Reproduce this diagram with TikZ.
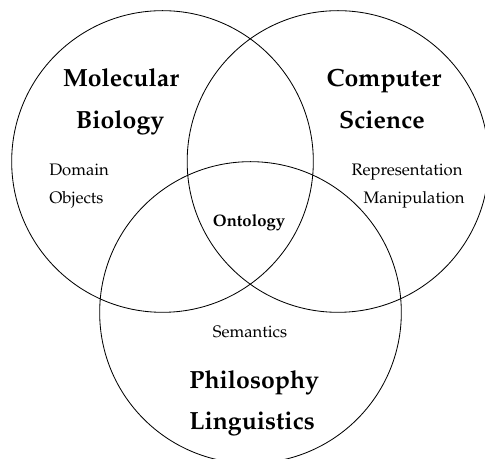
\documentclass[tikz,border=0pt]{standalone}
\usepackage[T1]{fontenc}
\usepackage{mathpazo}
\usepackage{tikz}
\usetikzlibrary{positioning}
\tikzset{
    setcircle/.style={
        circle, draw=black, line width=0.5pt,
        minimum size=181pt, inner sep=0pt
    },
    fieldlab/.style={
        font=\fontsize{14.9}{18}\selectfont\bfseries, anchor=base, inner sep=0pt
    },
    topiclab/.style={
        font=\normalsize, anchor=base west, inner sep=0pt
    },
    corelab/.style={
        font=\normalsize\bfseries, anchor=base, inner sep=0pt
    },
}
\begin{document}
\begin{tikzpicture}[x=0.6pt, y=-0.6pt]

    \useasboundingbox (0,0) rectangle (485,459);
    \clip (0,0) rectangle (485,459);

    % Circles
    \node[setcircle] (molbio) at (162.5,161.5) {};
    \node[setcircle] (compsci) at (338,161.5) {};
    \node[setcircle] (philling) at (250.5,312.5) {};

    % Field names
    \node[fieldlab] (molecular) at (121,87) {Molecular};
    \node[fieldlab] (biology) at (120,129) {Biology};
    \node[fieldlab] (computer) at (384,87) {Computer};
    \node[fieldlab] (science) at (382,129) {Science};
    \node[fieldlab, anchor=base west] (philosophy) at (189,389) {Philosophy};
    \node[fieldlab, anchor=base west] (linguistics) at (189,430) {Linguistics};

    % Topics
    \node[topiclab] (domain) at (49,176) {Domain};
    \node[topiclab] (objects) at (49,204) {Objects};
    \node[topiclab, anchor=base] (repr) at (407,176) {Representation};
    \node[topiclab, anchor=base east] (manip) at (465,204) {Manipulation};
    \node[topiclab, anchor=base] (semantics) at (250,338) {Semantics};

    % Centre
    \node[corelab] (ontology) at (249,227) {Ontology};

\end{tikzpicture}
\end{document}
